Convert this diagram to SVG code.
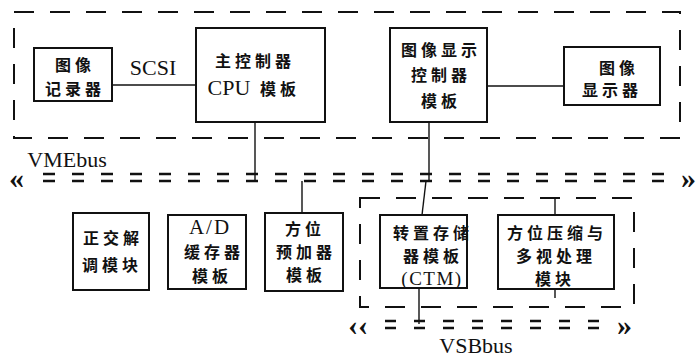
<svg xmlns="http://www.w3.org/2000/svg" width="697" height="363" viewBox="0 0 697 363">
<style>
.box{fill:#fff;stroke:#111;stroke-width:2}
.frame{fill:none;stroke:#111;stroke-width:2;stroke-dasharray:20 16}
.bus{fill:none;stroke:#111;stroke-width:2.6;stroke-dasharray:12 17}
.ln{fill:none;stroke:#111;stroke-width:1.4}
.cj{font-family:"Noto Sans CJK SC","Noto Sans",sans-serif;font-weight:700;font-size:16px;fill:#111;text-anchor:middle;letter-spacing:4px}
.lt{font-family:"Liberation Serif","DejaVu Serif",serif;font-size:22px;fill:#111;text-anchor:middle}
.ch{font-family:"Liberation Serif","DejaVu Serif",serif;font-weight:700;font-size:30px;fill:#111}
</style>
<rect width="697" height="363" fill="#fff"/>
<g id="frames">
<rect class="frame" x="14" y="12" width="666" height="126"/>
<rect class="frame" x="360" y="198" width="274" height="109"/>
</g>
<g id="connectors">
<line class="ln" x1="112" y1="85" x2="196" y2="85"/>
<line class="ln" x1="487" y1="86" x2="564" y2="86"/>
<line class="ln" x1="255" y1="122" x2="255" y2="181"/>
<line class="ln" x1="429" y1="122" x2="429" y2="181"/>
<line class="ln" x1="302" y1="181" x2="302" y2="213"/>
<line class="ln" x1="426" y1="181" x2="422" y2="215"/>
<line class="ln" x1="555" y1="198" x2="555" y2="215"/>
<line class="ln" x1="419" y1="288" x2="419" y2="324"/>
<line class="ln" x1="555" y1="289" x2="555" y2="298"/>
</g>
<g id="vmebus">
<line class="bus" x1="43" y1="174" x2="676" y2="174"/>
<line class="bus" x1="43" y1="181" x2="676" y2="181"/>
<text class="ch" x="9" y="188">«</text>
<text class="ch" x="681" y="188">»</text>
<text class="lt" x="67" y="167">VMEbus</text>
</g>
<g id="vsbbus">
<line class="bus" x1="385" y1="321" x2="612" y2="321" style="stroke-dasharray:11 18"/>
<line class="bus" x1="385" y1="328" x2="612" y2="328" style="stroke-dasharray:11 18"/>
<text class="ch" x="348" y="335">‹‹</text>
<text class="ch" x="617" y="335">»</text>
<text class="lt" x="476" y="353">VSBbus</text>
</g>
<g id="recorder">
<rect class="box" x="34" y="48" width="78" height="53"/>
<text class="cj" x="75" y="71">图像</text>
<text class="cj" x="75" y="95">记录器</text>
</g>
<text class="lt" x="153" y="75">SCSI</text>
<g id="cpu">
<rect class="box" x="196" y="28" width="129" height="94"/>
<text class="cj" x="255" y="67">主控制器</text>
<text class="lt" x="229" y="95">CPU</text>
<text class="cj" x="280" y="95">模板</text>
</g>
<g id="dispctl">
<rect class="box" x="390" y="28" width="97" height="94"/>
<text class="cj" x="441" y="56">图像显示</text>
<text class="cj" x="441" y="81">控制器</text>
<text class="cj" x="441" y="107">模板</text>
</g>
<g id="display">
<rect class="box" x="564" y="47" width="96" height="58"/>
<text class="cj" x="619" y="74">图像</text>
<text class="cj" x="612" y="96">显示器</text>
</g>
<g id="demod">
<rect class="box" x="73" y="213" width="76" height="77"/>
<text class="cj" x="113" y="244">正交解</text>
<text class="cj" x="112" y="271">调模块</text>
</g>
<g id="adbuf">
<rect class="box" x="168" y="215" width="78" height="74"/>
<text class="lt" x="210" y="234" style="font-size:21px;letter-spacing:2px">A/D</text>
<text class="cj" x="214" y="258">缓存器</text>
<text class="cj" x="212" y="282">模板</text>
</g>
<g id="azpre">
<rect class="box" x="265" y="213" width="78" height="78"/>
<text class="cj" x="305" y="235">方位</text>
<text class="cj" x="306" y="258">预加器</text>
<text class="cj" x="306" y="281">模板</text>
</g>
<g id="ctm">
<rect class="box" x="380" y="215" width="87" height="73"/>
<text class="cj" x="433" y="239">转置存储</text>
<text class="cj" x="433" y="262">器模板</text>
<text class="lt" x="432" y="285" style="font-size:19px;letter-spacing:1.5px">(CTM)</text>
</g>
<g id="azcomp">
<rect class="box" x="498" y="215" width="116" height="74"/>
<text class="cj" x="557" y="239">方位压缩与</text>
<text class="cj" x="556" y="262">多视处理</text>
<text class="cj" x="555" y="285">模块</text>
</g>
</svg>
